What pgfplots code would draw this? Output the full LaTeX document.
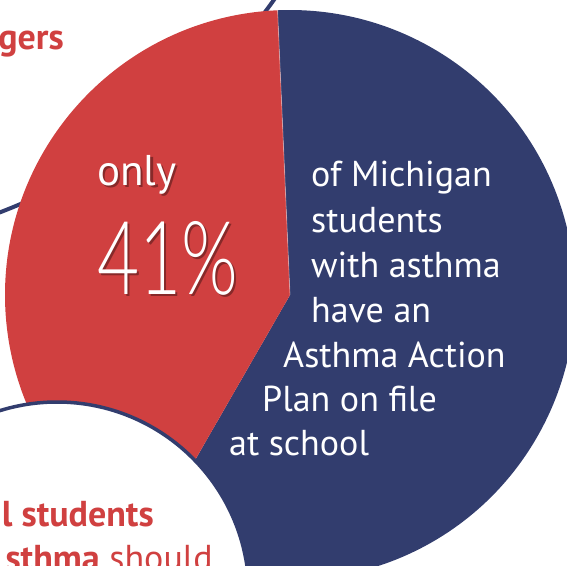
\documentclass[border=0pt]{standalone}
\usepackage{pgfplots}
\pgfplotsset{compat=1.18}
\usepackage{pgfplotstable}
\usepackage{fontspec}
\usepackage{graphicx}
\setmainfont{PT Sans}
\newfontfamily\lightfont{Lato Light}
\definecolor{piered}{RGB}{208,64,64}
\definecolor{pienavy}{RGB}{50,61,110}

\pgfplotstableread{
share value
with 41
without 59
}\piedata

\begin{document}
\begin{tikzpicture}
\useasboundingbox (0,0) rectangle (567pt,565pt);
\clip (0,0) rectangle (567pt,565pt);
\pgfplotstablegetelem{0}{value}\of\piedata
\pgfmathsetmacro{\startA}{92.5}
\pgfmathsetmacro{\endA}{\startA+3.6*\pgfplotsretval}
\pgfmathsetmacro{\endB}{\startA+360}
\begin{axis}[at={(0,0)},anchor=south west,
  width=567pt,height=565pt,scale only axis,
  xmin=0,xmax=567,ymin=0,ymax=565,
  hide axis, clip=false]
% background circle outline (top left)
\draw[pienavy, line width=4pt] (-215,913) circle[radius=600pt];
% pie
\fill[pienavy] (290,270) -- ++(\endA:285pt) arc[start angle=\endA, end angle=\endB, radius=285pt] -- cycle;
\fill[piered] (290,270) -- ++(\startA:285pt) arc[start angle=\startA, end angle=\endA, radius=285pt] -- cycle;
\draw[white, opacity=0.35, line width=0.8pt] (\startA:285pt) ++(290,270) -- (290,270);
% texts in pie
\node[anchor=base west, inner sep=0, text=black, opacity=0.35, font=\fontsize{43}{43}\selectfont] at (99.5,377.5) {only};
\node[anchor=base west, inner sep=0, text=white, font=\fontsize{43}{43}\selectfont] at (97,379) {only};
\node[anchor=base west, inner sep=0, text=black, opacity=0.35] at (99,268) {\resizebox{141pt}{73pt}{\lightfont 41\%}};
\node[anchor=base west, inner sep=0, text=white] at (97,270) {\resizebox{141pt}{73pt}{\lightfont 41\%}};
\begin{scope}[every node/.style={anchor=base west, inner sep=0, text=white, font=\fontsize{36}{36}\selectfont}]
\node at (311,378) {of Michigan};
\node at (311,333) {students};
\node at (311,288) {with asthma};
\node at (311,243) {have an};
\node at (283,198) {Asthma Action};
\node at (262,154) {Plan on file};
\node at (229,110) {at school};
\end{scope}
% overlay circle bottom left
\filldraw[fill=white, draw=pienavy, line width=3.5pt] (57,-29) circle[radius=192pt];
% red texts
\node[anchor=base east, inner sep=0, text=piered, font=\fontsize{36}{36}\selectfont\bfseries] at (64,515) {gers};
\node[anchor=base east, inner sep=0, text=piered, font=\fontsize{36}{36}\selectfont\bfseries] at (154,39) {l students};
\node[anchor=base east, inner sep=0, text=piered, font=\fontsize{36}{36}\selectfont] at (213,-5) {{\bfseries sthma} should};
\end{axis}
\end{tikzpicture}
\end{document}
